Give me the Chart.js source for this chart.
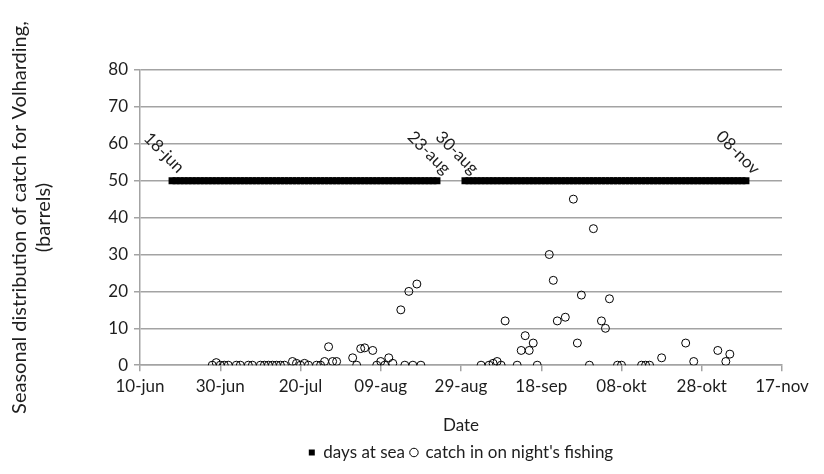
<!DOCTYPE html>
<html>
<head>
<meta charset="utf-8">
<script src="https://cdn.jsdelivr.net/npm/chart.js@4.4.1/dist/chart.umd.min.js"></script>
<style>
    html, body { margin: 0; padding: 0; background: #fff; }
    #wrap { width: 824px; height: 474px; }
</style>
</head>
<body>
<div id="wrap"><canvas id="grafico" width="824" height="474"></canvas></div>
<script>
// x values are days counted from 10-jun
const tickLabels = ["10-jun", "30-jun", "20-jul", "09-aug", "29-aug", "18-sep", "08-okt", "28-okt", "17-nov"];
const months = ["jan", "feb", "mrt", "apr", "mei", "jun", "jul", "aug", "sep", "okt", "nov", "dec"];

// trips: first and last day at sea
const seaTrips = [[8, 74], [81, 151]];
const seaLevel = 50;

// catch per night (barrels)
const catchDays = [
    18, 19, 20, 21, 22, 24, 25, 27, 28, 30,
    31, 32, 33, 34, 35, 36, 38, 39, 40, 41,
    42, 44, 45, 46, 47, 48, 49, 53, 54, 55,
    56, 58, 59, 60, 61, 62, 63, 65, 66, 67,
    68, 69, 70,
    85, 87, 88, 89, 90, 91, 94, 95, 96, 97,
    98, 99, 102, 103, 104, 106, 108, 109, 110, 112,
    113, 115, 116, 117, 119, 120, 125, 126, 127, 130,
    136, 138, 144, 146, 147
];
const catchBarrels = [
    0, 0.7, 0, 0, 0, 0, 0, 0, 0, 0,
    0, 0, 0, 0, 0, 0, 1, 0.5, 0, 0.5,
    0, 0, 0, 1, 5, 1, 1, 2, 0, 4.5,
    4.7, 4, 0, 1, 0, 2, 0.5, 15, 0, 20,
    0, 22, 0,
    0, 0, 0.5, 1, 0, 12, 0, 4, 8, 4,
    6, 0, 30, 23, 12, 13, 45, 6, 19, 0,
    37, 12, 10, 18, 0, 0, 0, 0, 0, 2,
    6, 1, 4, 1, 3
];

const FONT = "Lato, 'Open Sans', sans-serif";
const TEXT = "#1e1e1e";
const GRID = "#a3a3a3";

function dayLabel(day) {
    const d = new Date(2001, 5, 10 + day);
    return String(d.getDate()).padStart(2, "0") + "-" + months[d.getMonth()];
}

// one square per day at sea
const seaPoints = [];
seaTrips.forEach(([start, end]) => {
    for (let d = start; d <= end; d++) {
        seaPoints.push({ x: d, y: seaLevel });
    }
});

const catchPoints = catchDays.map((d, i) => ({ x: d, y: catchBarrels[i] }));

// rotated date labels at the start and end of each trip
const tripLabels = {
    id: "tripLabels",
    afterDatasetsDraw(chart) {
        const ctx = chart.ctx;
        const x = chart.scales.x;
        const y = chart.scales.y;
        ctx.save();
        ctx.font = "17px " + FONT;
        ctx.fillStyle = TEXT;
        ctx.textAlign = "center";
        ctx.textBaseline = "middle";
        seaTrips.forEach(trip => {
            trip.forEach(day => {
                const px = x.getPixelForValue(day);
                const py = y.getPixelForValue(seaLevel);
                ctx.save();
                ctx.translate(px - 8, py - 28);
                ctx.rotate(Math.PI / 4);
                ctx.fillText(dayLabel(day), 0, 0);
                ctx.restore();
            });
        });
        ctx.restore();
    }
};

const ctx = document.getElementById("grafico");

new Chart(ctx, {
    type: "scatter",
    data: {
        datasets: [
            {
                label: "days at sea",
                data: seaPoints,
                pointStyle: "rect",
                pointRadius: 5,
                pointHoverRadius: 5,
                backgroundColor: "#000",
                borderColor: "#000",
                borderWidth: 0
            },
            {
                label: "catch in on night's fishing",
                data: catchPoints,
                pointStyle: "circle",
                pointRadius: 4,
                pointHoverRadius: 4,
                backgroundColor: "rgba(255,255,255,0)",
                borderColor: "#000",
                borderWidth: 1
            }
        ]
    },
    options: {
        responsive: false,
        animation: false,
        layout: {
            padding: { top: 70, right: 42, left: 0, bottom: 3 }
        },
        scales: {
            x: {
                type: "linear",
                min: 0,
                max: 160,
                ticks: {
                    stepSize: 20,
                    autoSkip: false,
                    maxRotation: 0,
                    color: TEXT,
                    font: { family: FONT, size: 17 },
                    padding: 5,
                    callback: v => tickLabels[v / 20]
                },
                grid: {
                    drawOnChartArea: false,
                    color: GRID,
                    lineWidth: 1.5,
                    tickLength: 6
                },
                border: { color: GRID, width: 1.5 },
                title: {
                    display: true,
                    text: "Date",
                    color: TEXT,
                    font: { family: FONT, size: 17 },
                    padding: { top: 14, bottom: 2 }
                }
            },
            y: {
                min: 0,
                max: 80,
                afterFit(scale) {
                    scale.width = 140;
                },
                ticks: {
                    stepSize: 10,
                    color: TEXT,
                    font: { family: FONT, size: 17 },
                    padding: 6
                },
                grid: {
                    color: GRID,
                    lineWidth: 1.5,
                    tickLength: 6
                },
                border: { color: GRID, width: 1.5 },
                title: {
                    display: true,
                    text: ["Seasonal distribution of catch for Volharding,", "(barrels)"],
                    color: TEXT,
                    font: { family: FONT, size: 20 },
                    padding: { top: 8, bottom: 0 }
                }
            }
        },
        plugins: {
            legend: {
                position: "bottom",
                fullSize: false,
                labels: {
                    usePointStyle: true,
                    boxWidth: 6,
                    boxHeight: 6,
                    padding: 6,
                    color: TEXT,
                    font: { family: FONT, size: 17 }
                }
            },
            tooltip: { enabled: false }
        }
    },
    plugins: [tripLabels]
});
</script>
</body>
</html>
